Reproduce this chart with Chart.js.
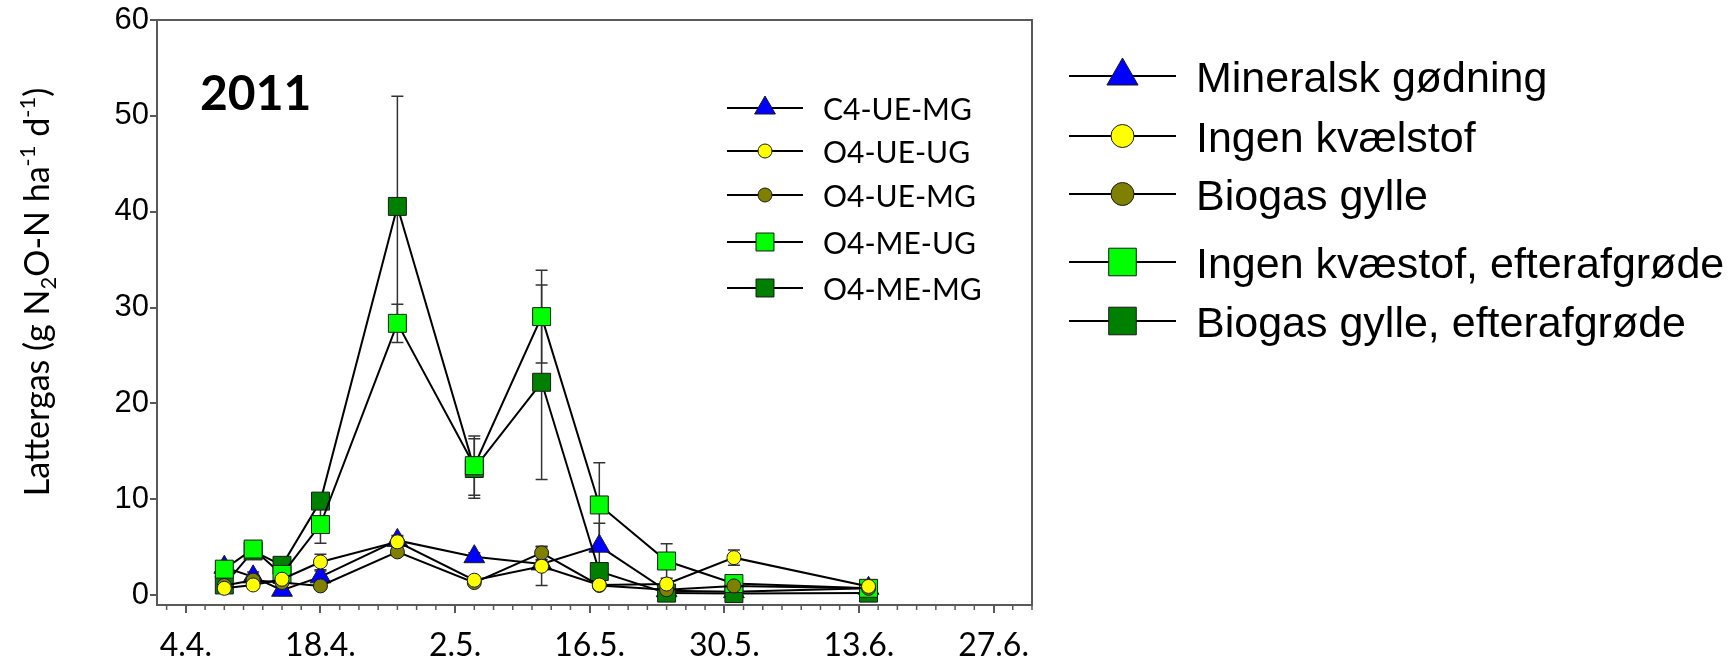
<!DOCTYPE html>
<html>
<head>
<meta charset="utf-8">
<title>Lattergas 2011</title>
<script src="https://cdn.jsdelivr.net/npm/chart.js@4.4.1/dist/chart.umd.min.js"></script>
<style>
body{margin:0;background:#fff;}
#wrap{width:1731px;height:670px;}
</style>
</head>
<body>
<div id="wrap"><canvas id="myChart" width="1731" height="670"></canvas></div>
<script>
// maaledage, talt i dage efter 4.4.
var days = [4, 7, 10, 14, 22, 30, 37, 43, 50, 57, 71];
var xTickDays = [0, 14, 28, 42, 56, 70, 84];
var xTickLabels = ['4.4.', '18.4.', '2.5.', '16.5.', '30.5.', '13.6.', '27.6.'];
var yTicks = [0, 10, 20, 30, 40, 50, 60];

var seriesNames = ['C4-UE-MG', 'O4-UE-UG', 'O4-UE-MG', 'O4-ME-UG', 'O4-ME-MG'];
var legendNames = ['Mineralsk gødning', 'Ingen kvælstof', 'Biogas gylle', 'Ingen kvæstof, efterafgrøde', 'Biogas gylle, efterafgrøde'];

var c4ueMg    = [2.9, 1.9, 0.5, 1.9, 5.7, 4.0, 3.25, 5.1, 0.45, 0.35, 0.7];
var o4ueUg    = [0.7, 1.05, 1.65, 3.45, 5.55, 1.55, 3.0, 1.05, 1.15, 3.9, 0.9];
var o4ueMg    = [1.0, 1.55, 1.3, 0.95, 4.5, 1.3, 4.4, 1.0, 0.55, 0.95, 0.7];
var o4meUg    = [2.7, 4.8, 2.15, 7.35, 28.35, 13.5, 29.05, 9.4, 3.55, 1.2, 0.7];
var o4meMg    = [1.05, 4.6, 3.1, 9.8, 40.55, 13.2, 22.2, 2.45, 0.2, 0.15, 0.2];

// standardfejl
var c4ueMgErr = [0.3, 0.5, 0.3, 0.6, 0.5, 0.4, 0.4, 2.4, 0.2, 0.2, 0.2];
var o4ueUgErr = [0.3, 0.3, 0.5, 0.8, 0.5, 0.3, 2.0, 0.2, 0.2, 0.8, 0.2];
var o4ueMgErr = [0.2, 0.3, 0.3, 0.3, 0.4, 0.3, 0.7, 0.2, 0.2, 0.2, 0.2];
var o4meUgErr = [0.4, 0.5, 0.6, 1.95, 2.0, 3.1, 4.85, 4.4, 1.8, 0.3, 0.3];
var o4meMgErr = [0.3, 0.5, 0.4, 0.5, 11.5, 3.1, 10.15, 0.8, 0.3, 0.2, 0.2];

var styles = [
	{shape: 'triangle', fill: '#0000ff', r: 12, big: 18, order: 5},
	{shape: 'circle', fill: '#ffff00', r: 7, big: 11.5, order: 1},
	{shape: 'circle', fill: '#808000', r: 7, big: 11.5, order: 2},
	{shape: 'rect', fill: '#00ff00', r: 12.7, big: 19.5, order: 3},
	{shape: 'rect', fill: '#008000', r: 12.7, big: 19.5, order: 4}
];
var allValues = [c4ueMg, o4ueUg, o4ueMg, o4meUg, o4meMg];
var allErrors = [c4ueMgErr, o4ueUgErr, o4ueMgErr, o4meUgErr, o4meMgErr];

function makeSet(i){
	var st = styles[i];
	return {
		label: seriesNames[i],
		data: days.map(function(d, j){ return {x: d, y: allValues[i][j]}; }),
		errors: allErrors[i],
		order: st.order,
		borderColor: '#000',
		borderWidth: 2,
		pointStyle: st.shape,
		pointRadius: st.r,
		pointHoverRadius: st.r,
		pointBackgroundColor: st.fill,
		pointBorderColor: '#1a1a1a',
		pointBorderWidth: 1,
		tension: 0,
		fill: false
	};
}

var gray = '#595959';

// fejlstreger under linjerne
var errorBars = {
	id: 'errorBars',
	beforeDatasetsDraw: function(chart){
		var ctx = chart.ctx, xs = chart.scales.x, ys = chart.scales.y;
		ctx.save();
		ctx.strokeStyle = '#333';
		ctx.lineWidth = 1.5;
		chart.data.datasets.forEach(function(ds){
			ds.data.forEach(function(p, j){
				var e = ds.errors[j];
				if(!e) return;
				var px = xs.getPixelForValue(p.x);
				var top = ys.getPixelForValue(p.y + e);
				var bot = ys.getPixelForValue(p.y - e);
				ctx.beginPath();
				ctx.moveTo(px, top); ctx.lineTo(px, bot);
				ctx.moveTo(px - 6, top); ctx.lineTo(px + 6, top);
				ctx.moveTo(px - 6, bot); ctx.lineTo(px + 6, bot);
				ctx.stroke();
			});
		});
		ctx.restore();
	}
};

function legendRow(ctx, x0, x1, y, st, radius, text, tx, ty, font){
	ctx.strokeStyle = '#000';
	ctx.lineWidth = 2;
	ctx.beginPath(); ctx.moveTo(x0, y); ctx.lineTo(x1, y); ctx.stroke();
	ctx.fillStyle = st.fill;
	ctx.strokeStyle = '#1a1a1a';
	ctx.lineWidth = 1;
	Chart.helpers.drawPoint(ctx, {pointStyle: st.shape, radius: radius, borderWidth: 1, rotation: 0}, (x0 + x1) / 2, y);
	ctx.fillStyle = '#000';
	ctx.font = font;
	ctx.textAlign = 'left';
	ctx.textBaseline = 'alphabetic';
	ctx.fillText(text, tx, ty);
}

var extras = {
	id: 'extras',
	afterDraw: function(chart){
		var ctx = chart.ctx, a = chart.chartArea, xs = chart.scales.x;
		ctx.save();
		// ramme top og hoejre
		ctx.strokeStyle = gray;
		ctx.lineWidth = 2;
		ctx.beginPath();
		ctx.moveTo(a.left, a.top); ctx.lineTo(a.right, a.top); ctx.lineTo(a.right, a.bottom);
		ctx.stroke();
		// mindre streger hver 2. dag
		ctx.lineWidth = 1.5;
		ctx.beginPath();
		for(var d = -2; d <= 88; d += 2){
			if(xTickDays.indexOf(d) >= 0) continue;
			var px = xs.getPixelForValue(d);
			ctx.moveTo(px, a.bottom); ctx.lineTo(px, a.bottom + 5);
		}
		ctx.stroke();

		// aarstal
		ctx.fillStyle = '#000';
		ctx.font = 'bold 48px Lato';
		ctx.textBaseline = 'alphabetic';
		ctx.fillText('2011', 200, 110);

		// y-aksens titel med sub- og superscript
		ctx.translate(49, 292);
		ctx.rotate(-Math.PI / 2);
		var parts = [['Lattergas (g N', 0], ['2', 1], ['O-N ha', 0], ['-1', -1], [' d', 0], ['-1', -1], [')', 0]];
		var big = '34px Lato', small = '22px Lato';
		var total = 0;
		parts.forEach(function(p){ ctx.font = p[1] ? small : big; total += ctx.measureText(p[0]).width; });
		var cx = -total / 2;
		parts.forEach(function(p){
			ctx.font = p[1] ? small : big;
			var dy = p[1] === 1 ? 7 : (p[1] === -1 ? -14 : 0);
			ctx.fillText(p[0], cx, dy);
			cx += ctx.measureText(p[0]).width;
		});
		ctx.setTransform(1, 0, 0, 1, 0, 0);

		// indre signatur
		var innerRows = [108, 151, 195, 242, 288];
		for(var i = 0; i < 5; i++){
			legendRow(ctx, 727, 803, innerRows[i], styles[i], styles[i].r, seriesNames[i], 823, innerRows[i] + 11.7, '30px Lato');
		}
		// ydre signatur
		var outerRows = [76, 136, 194, 262, 321];
		for(var k = 0; k < 5; k++){
			legendRow(ctx, 1069, 1176, outerRows[k], styles[k], styles[k].big, legendNames[k], 1196, outerRows[k] + 16, '43px "Liberation Sans"');
		}
		ctx.restore();
	}
};

new Chart(document.getElementById('myChart'), {
	type: 'line',
	data: {datasets: [0, 1, 2, 3, 4].map(makeSet)},
	options: {
		responsive: false,
		animation: false,
		layout: {padding: {left: 0, right: 699, top: 20, bottom: 0}},
		plugins: {legend: {display: false}, tooltip: {enabled: false}},
		scales: {
			x: {
				type: 'linear', min: -3, max: 88,
				afterFit: function(s){ s.height = 65; s.paddingLeft = 0; s.paddingRight = 0; },
				afterBuildTicks: function(s){ s.ticks = xTickDays.map(function(v){ return {value: v}; }); },
				ticks: {
					callback: function(v){ var i = xTickDays.indexOf(v); return i < 0 ? '' : xTickLabels[i]; },
					font: {family: 'Lato', size: 32}, color: '#000', padding: 13, maxRotation: 0, autoSkip: false
				},
				grid: {drawOnChartArea: false, tickLength: 8, color: gray, lineWidth: 2},
				border: {color: gray, width: 2}
			},
			y: {
				min: -1.04, max: 60,
				afterFit: function(s){ s.width = 157; s.paddingTop = 0; s.paddingBottom = 0; },
				afterBuildTicks: function(s){ s.ticks = yTicks.map(function(v){ return {value: v}; }); },
				ticks: {font: {family: "'Liberation Sans'", size: 31}, color: '#000', padding: 1},
				grid: {drawOnChartArea: false, tickLength: 7, color: gray, lineWidth: 2},
				border: {color: gray, width: 2}
			}
		}
	},
	plugins: [errorBars, extras]
});
</script>
</body>
</html>
